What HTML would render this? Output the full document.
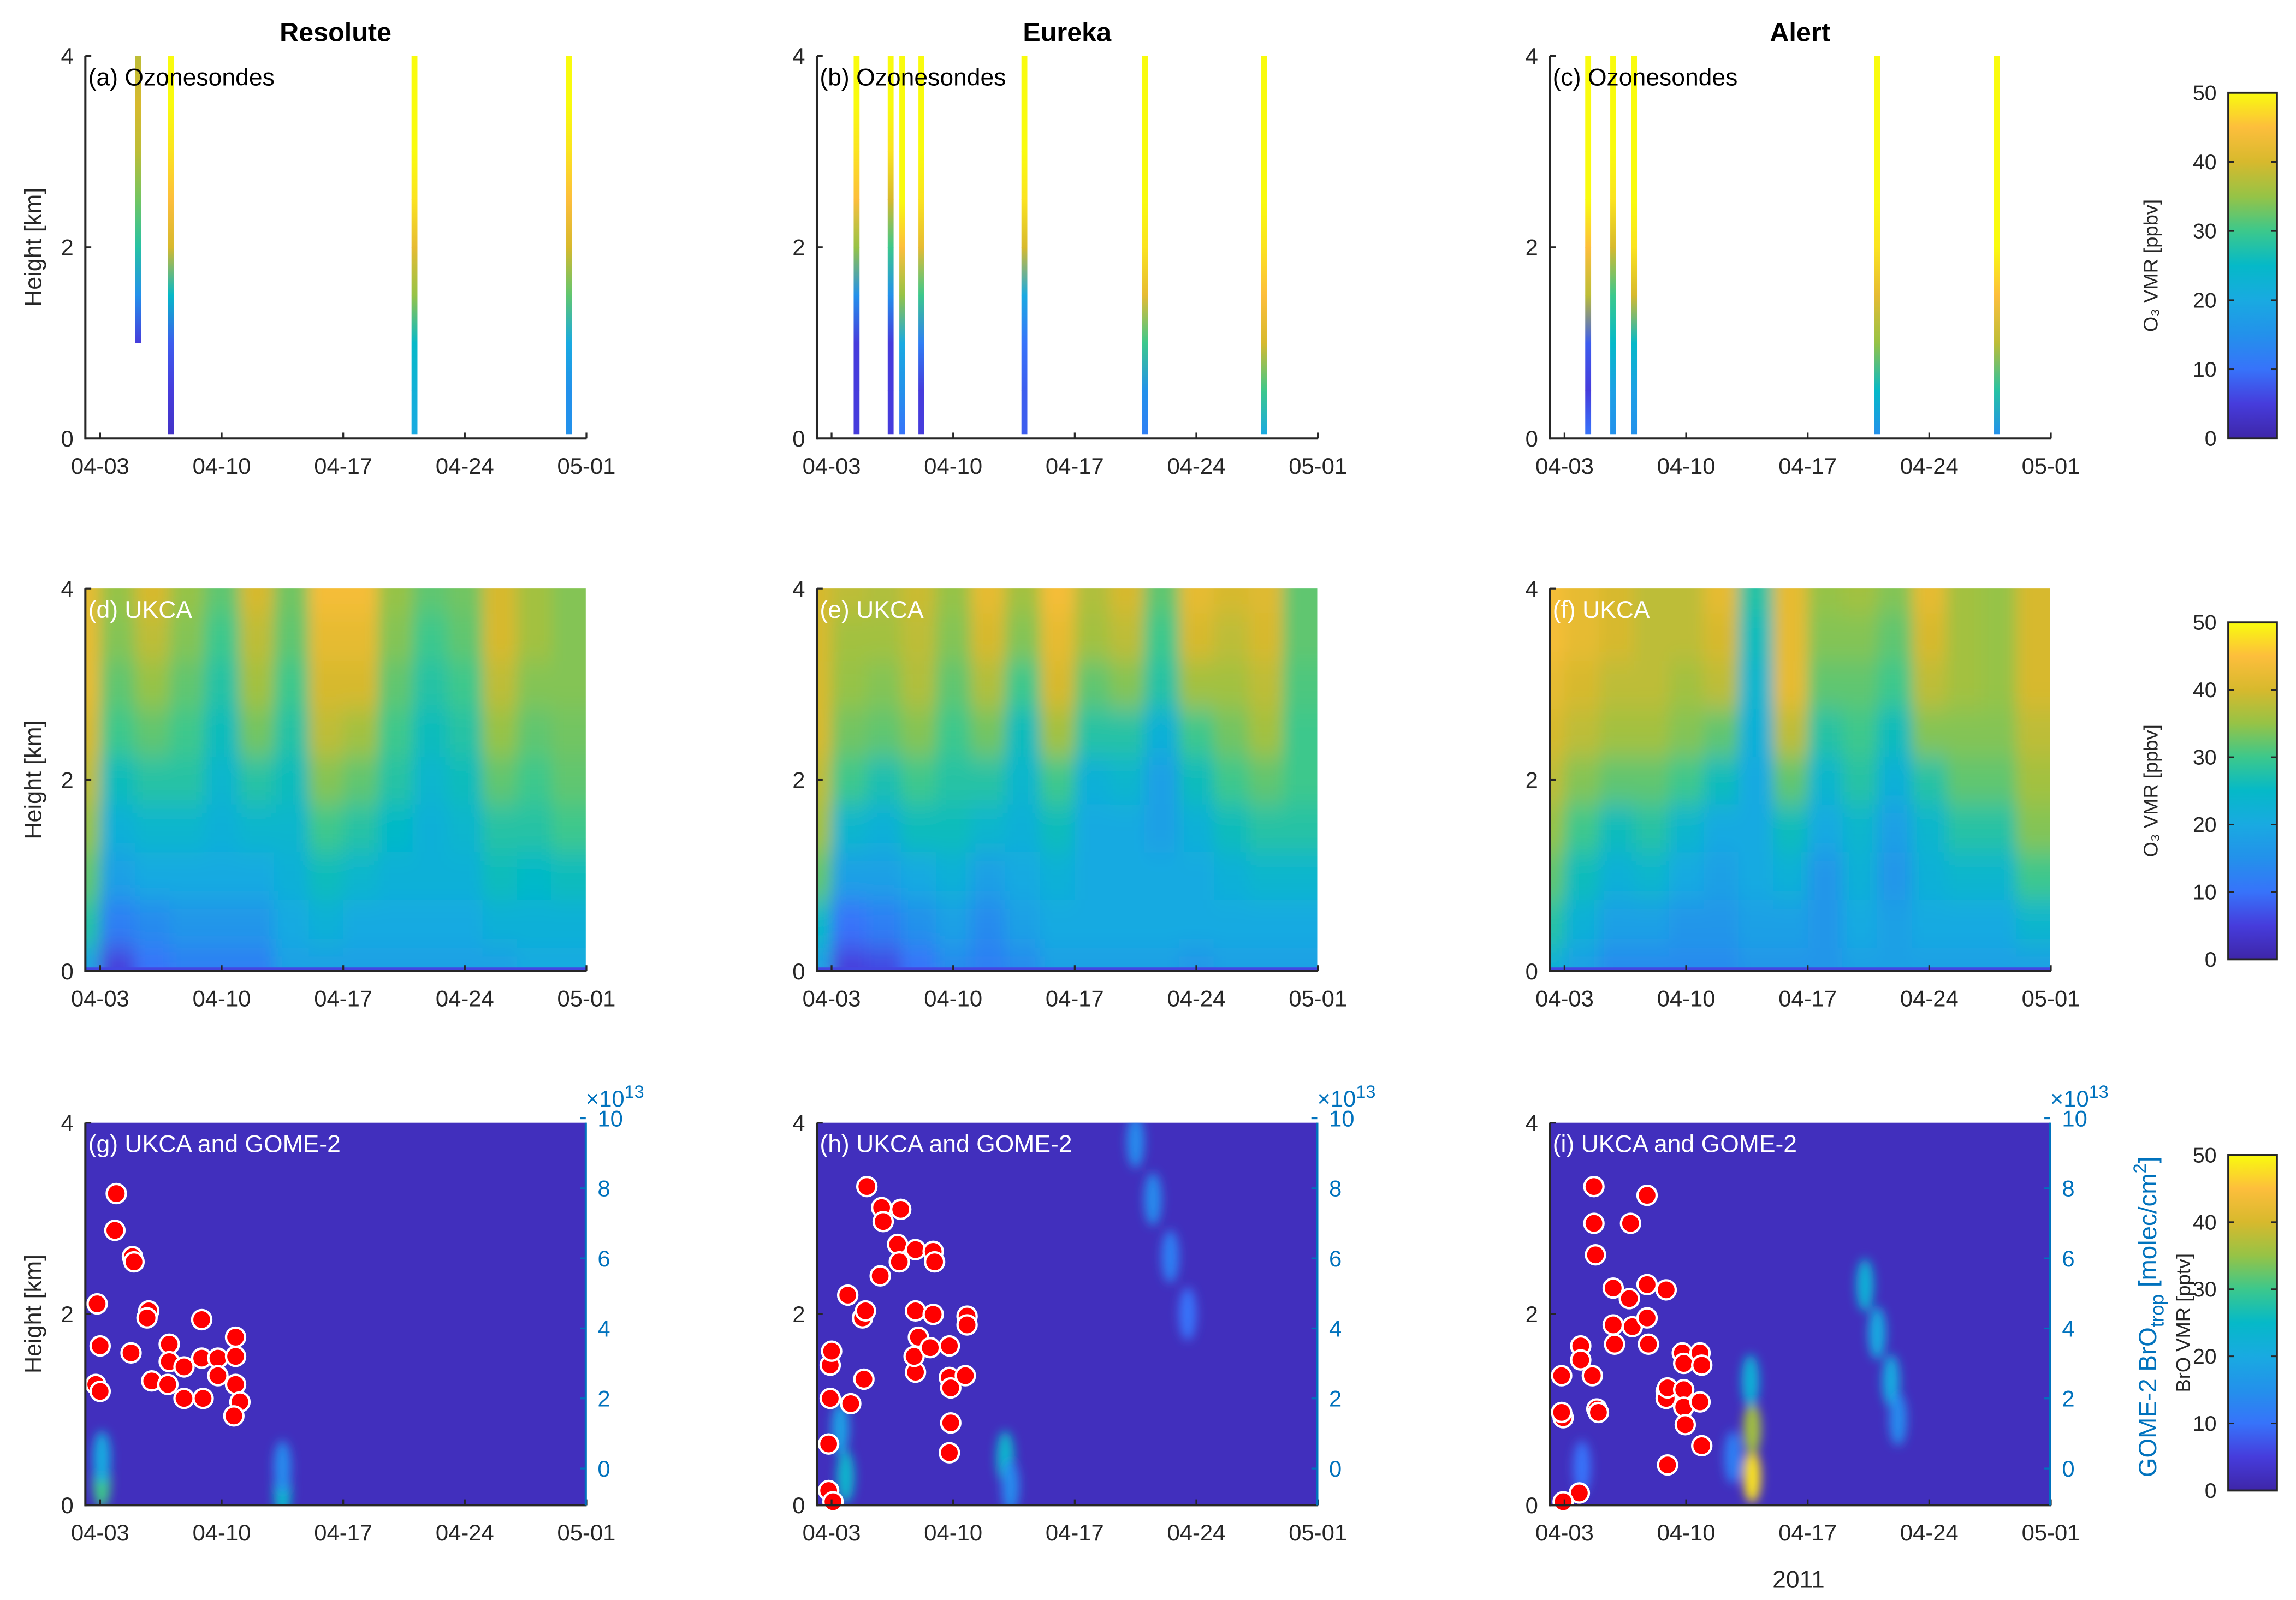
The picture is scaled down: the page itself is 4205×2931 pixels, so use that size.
<!DOCTYPE html>
<html><head><meta charset="utf-8"><style>
html,body{margin:0;padding:0;background:#fff;}
svg{display:block;font-family:"Liberation Sans",Arial,sans-serif;}
</style></head><body>
<svg id="fig" xmlns="http://www.w3.org/2000/svg" width="4205" height="2931" viewBox="0 0 1560 1087.4" preserveAspectRatio="none">
<defs>
<filter id="blurH" filterUnits="userSpaceOnUse" x="0" y="0" width="1560" height="1088"><feGaussianBlur stdDeviation="5 9"/></filter>
<filter id="blurB" filterUnits="userSpaceOnUse" x="0" y="0" width="1560" height="1088"><feGaussianBlur stdDeviation="3.5"/></filter>
</defs>
</svg>
<script>
// ---------------- data ----------------
const stationNames=["Resolute","Eureka","Alert"];
const dateTickDays=[3,10,17,24,31];
const dateTickLabels=["04-03","04-10","04-17","04-24","05-01"];
const heightTicks=[0,2,4];
const rightTicks=[0,2,4,6,8,10];
const cbTicks=[0,10,20,30,40,50];
const profileHeights=[0,0.5,1,1.5,2,2.5,3,3.5,4];
// ozonesondes
const sondeDaysResolute=[5.2,7.07,21.1,30.0];
const sondeValsResolute=[[8,null,5,15,28,33,38,40,38],[3,5,8,25,40,45,48,50,50],[20,22,25,35,42,48,50,50,50],[15,15,20,32,40,45,48,50,50]];
const sondeDaysEureka=[4.44,6.4,7.07,8.17,14.1,21.05,27.9];
const sondeValsEureka=[[5,5,5,15,35,45,48,50,50],[5,5,5,15,30,40,48,50,50],[10,15,20,35,45,50,50,50,50],[5,5,12,30,42,48,50,50,50],[8,8,10,20,40,48,50,50,50],[12,15,30,42,48,50,50,50,50],[20,30,40,45,48,50,50,50,50]];
const sondeDaysAlert=[4.36,5.8,7.0,21.0,27.9];
const sondeValsAlert=[[10,5,8,38,45,50,50,50,50],[15,18,25,30,40,48,50,50,50],[15,18,25,40,48,50,50,50,50],[15,25,35,42,48,50,50,50,50],[15,28,38,45,50,50,50,50,50]];
// UKCA ozone
const ukcaDays=[2,4,6,8,10,12,14,16,18,20,22,24,26,28,30];
const ukcaResolute=[[18,28,32,35,38,40,42,42,42],[5,12,18,22,26,30,32,34,35],[10,14,20,24,28,32,35,38,40],[12,16,20,24,28,30,32,34,35],[12,16,20,22,24,26,28,30,32],[12,16,20,24,28,33,36,38,40],[18,20,22,24,26,28,30,32,33],[18,22,26,30,34,38,40,42,44],[18,20,24,28,32,36,40,42,44],[18,20,22,25,28,30,32,34,35],[18,20,22,22,24,26,28,30,32],[18,20,22,24,26,28,30,32,33],[18,22,26,28,32,35,38,40,40],[20,22,25,28,30,32,34,36,36],[20,22,26,30,32,33,34,34,34]];
const ukcaEureka=[[18,25,32,36,38,40,40,40,40],[5,10,18,24,30,33,35,36,38],[6,12,18,22,27,32,34,36,37],[10,15,20,26,30,34,37,38,39],[14,18,22,26,28,30,32,34,35],[12,14,18,24,28,33,37,40,42],[14,18,20,22,24,26,30,34,36],[18,20,22,26,30,36,40,42,44],[18,20,20,20,22,28,32,36,37],[18,20,20,20,24,28,34,38,40],[18,20,20,18,18,22,28,30,32],[16,20,20,22,26,30,36,40,42],[18,20,22,26,30,33,36,38,40],[18,20,24,28,32,36,38,40,41],[18,20,24,28,30,30,31,32,32]];
const ukcaAlert=[[22,28,32,35,38,40,42,44,44],[18,22,26,30,34,38,40,42,42],[14,18,22,26,32,36,38,40,40],[14,18,24,28,32,36,38,38,38],[14,16,20,24,30,34,36,38,38],[14,16,18,20,26,32,38,40,42],[16,18,20,20,20,22,24,26,28],[16,18,22,26,32,38,42,42,42],[16,16,16,20,24,28,32,34,35],[18,20,22,24,28,30,32,34,36],[18,18,16,18,22,26,30,32,34],[18,20,22,24,28,34,38,40,42],[18,20,24,28,32,34,36,36,36],[18,20,24,28,32,34,35,35,35],[18,24,30,34,36,38,40,40,40]];
const ukcaSurfaceStrip=6;
// UKCA BrO
const broBackground=2;
const broDaysResolute=[3.1,3.1,13.5,13.5];
const broHResolute=[0.25,0.5,0.15,0.4];
const broValResolute=[30,20,24,14];
const broDaysEureka=[3.8,3.5,13,13.3,20.5,21.5,22.5,23.5];
const broHEureka=[0.3,0.8,0.5,0.2,3.8,3.2,2.6,2.0];
const broValEureka=[24,18,24,14,14,14,12,10];
const broDaysAlert=[13.8,13.8,13.7,12.7,20.3,21.0,21.8,22.2,4.0];
const broHAlert=[0.3,0.8,1.3,0.5,2.3,1.8,1.3,0.9,0.4];
const broValAlert=[48,36,22,12,22,20,20,14,10];
// GOME-2 BrO (x1e13 molec/cm2)
const gomeDaysResolute=[2.83,3.0,2.75,3.0,3.93,3.85,4.86,4.95,4.78,5.8,5.7,5.97,6.98,6.98,6.9,7.83,7.83,8.85,8.85,8.93,9.78,9.78,10.8,10.8,10.8,11.05,10.7];
const gomeValsResolute=[4.7,3.5,2.4,2.2,7.85,6.8,6.05,5.9,3.3,4.5,4.3,2.5,3.55,3.05,2.4,2.9,2.0,4.25,3.15,2.0,3.15,2.65,3.75,3.2,2.4,1.9,1.5];
const gomeDaysEureka=[2.83,3.08,2.83,2.92,3.0,2.92,3.93,4.1,4.78,4.95,4.86,5.03,5.88,5.97,5.8,6.8,6.9,6.98,7.83,7.83,8.0,7.83,7.75,8.85,8.93,8.85,8.68,9.78,9.78,9.86,9.86,9.78,10.8,10.8,10.7];
const gomeValsEureka=[-0.63,-0.95,0.7,2.95,3.35,2.0,4.95,1.85,4.3,4.5,2.55,8.05,7.45,7.05,5.5,6.4,5.9,7.4,6.25,4.5,3.75,2.75,3.2,6.2,5.9,4.4,3.45,3.5,2.6,2.3,1.3,0.45,4.35,4.1,2.65];
const gomeDaysAlert=[2.83,2.92,2.83,3.93,3.93,3.85,2.92,4.6,4.69,4.69,4.78,4.86,4.95,5.8,5.8,5.88,6.73,6.8,6.9,7.75,7.75,7.75,7.83,8.85,8.85,8.85,8.93,8.93,9.78,9.86,9.86,9.86,9.95,10.8,10.9,10.8,10.9];
const gomeValsAlert=[2.65,1.45,1.6,3.5,3.1,-0.7,-0.95,2.65,8.05,7.0,6.1,1.7,1.6,5.15,4.1,3.55,4.85,7.0,4.05,7.8,5.25,4.3,3.55,5.1,2.2,2.0,2.3,0.1,3.3,3.0,2.25,1.75,1.25,3.3,2.95,1.9,0.65];

// ---------------- layout ----------------
const NS="http://www.w3.org/2000/svg";
const svg=document.getElementById("fig");
const colX0=[58,555,1053], W=340;
const rowY0=[38,400,763], H=260;
function xS(c,d){return colX0[c]+(d-2.15)*11.8;}
function yS(r,h){return rowY0[r]+(4-h)*(H/4);}
function yR(r,v){return rowY0[r]+H-(v+1.05)*23.8;}
const stops=[[62,38,168],[70,60,220],[55,115,250],[35,145,235],[25,170,225],[5,185,200],[60,200,140],[150,195,70],[215,185,45],[253,190,60],[249,251,14]];
function cmap(v){let t=Math.max(0,Math.min(1,v/50))*10;let i=Math.min(9,Math.floor(t));let f=t-i;const a=stops[i],b=stops[i+1];
 return "rgb("+Math.round(a[0]+(b[0]-a[0])*f)+","+Math.round(a[1]+(b[1]-a[1])*f)+","+Math.round(a[2]+(b[2]-a[2])*f)+")";}
function el(tag,attrs,parent){const e=document.createElementNS(NS,tag);for(const k in attrs)e.setAttribute(k,attrs[k]);(parent||svg).appendChild(e);return e;}
function txt(s,attrs,parent){const e=el("text",attrs,parent);e.textContent=s;return e;}

const sondeDays=[sondeDaysResolute,sondeDaysEureka,sondeDaysAlert];
const sondeVals=[sondeValsResolute,sondeValsEureka,sondeValsAlert];
const ukca=[ukcaResolute,ukcaEureka,ukcaAlert];
const broD=[broDaysResolute,broDaysEureka,broDaysAlert],broH=[broHResolute,broHEureka,broHAlert],broV=[broValResolute,broValEureka,broValAlert];
const gD=[gomeDaysResolute,gomeDaysEureka,gomeDaysAlert],gV=[gomeValsResolute,gomeValsEureka,gomeValsAlert];
const letters=[["a","b","c"],["d","e","f"],["g","h","i"]];

for(let c=0;c<3;c++){
 for(let r=0;r<3;r++){
  const cp=el("clipPath",{id:"clip"+r+c});
  el("rect",{x:colX0[c],y:rowY0[r],width:W,height:H},cp);
 }
 const t=txt(stationNames[c],{x:colX0[c]+170,y:28,"font-size":18,"font-weight":"bold","text-anchor":"middle"});
 
 

 const gs=el("g",{"clip-path":"url(#clip0"+c+")"});
 
 
 sondeDays[c].forEach((d,i)=>{
  const vals=sondeVals[c][i];
  for(let k=0;k<profileHeights.length-1;k++){
   const v0=vals[k],v1=vals[k+1];
   if(v0==null||v1==null)continue;
   const gid="sg"+c+"_"+i+"_"+k;
   const lg=el("linearGradient",{id:gid,x1:0,y1:1,x2:0,y2:0},svg.querySelector("defs"));
   el("stop",{offset:0,"stop-color":cmap(v0)},lg);el("stop",{offset:1,"stop-color":cmap(v1)},lg);
   const yb=yS(0,Math.max(profileHeights[k],0.05)),yt=yS(0,profileHeights[k+1]);
   const rr=el("rect",{x:xS(c,d)-2,y:yt,width:4,height:yb-yt+0.3,fill:"url(#"+gid+")"},gs);
   
   
  }
 });

 const gc=el("g",{"clip-path":"url(#clip1"+c+")"});
 const gh=el("g",{filter:"url(#blurH)"},gc);
 
 
 const data=ukca[c];
 for(let i=0;i<ukcaDays.length;i++){
  let xl=i==0?xS(c,ukcaDays[0])-40:(xS(c,ukcaDays[i-1])+xS(c,ukcaDays[i]))/2;
  let xr=i==ukcaDays.length-1?xS(c,ukcaDays[i])+40:(xS(c,ukcaDays[i])+xS(c,ukcaDays[i+1]))/2;
  for(let k=0;k<profileHeights.length;k++){
   let yt=k==profileHeights.length-1?yS(1,4)-40:yS(1,profileHeights[k]+0.25);
   let yb=k==0?yS(1,0)+40:yS(1,profileHeights[k]-0.25);
   const cell=el("rect",{x:xl,y:yt,width:xr-xl+0.5,height:yb-yt+0.5,fill:cmap(data[i][k])},gh);
   
   
  }
 }
 const strip=el("rect",{x:colX0[c],y:rowY0[1]+H-2.5,width:W,height:2.5,fill:cmap(ukcaSurfaceStrip)},gc);
 
 

 const gb=el("g",{"clip-path":"url(#clip2"+c+")"});
 
 
 el("rect",{x:colX0[c],y:rowY0[2],width:W,height:H,fill:cmap(broBackground)},gb);
 const gbb=el("g",{filter:"url(#blurB)"},gb);
 broD[c].forEach((d,i)=>{
  const e=el("ellipse",{cx:xS(c,d),cy:yS(2,broH[c][i]),rx:6,ry:18,fill:cmap(broV[c][i])},gbb);
  
  
 });
 gD[c].forEach((d,i)=>{
  const p=el("circle",{cx:xS(c,d),cy:yR(2,gV[c][i]),r:6.5,fill:"#ff0000",stroke:"#ffffff","stroke-width":1.6});
  
  
 });

 for(let r=0;r<3;r++){
  const ax=el("g",{});
  
  
  const y0=rowY0[r],yb=y0+H,x0=colX0[c];
  el("line",{x1:x0,y1:y0,x2:x0,y2:yb+0.75,stroke:"#262626","stroke-width":1.5},ax);
  el("line",{x1:x0,y1:yb,x2:x0+W+0.6,y2:yb,stroke:"#262626","stroke-width":1.5},ax);
  dateTickDays.forEach((d,i)=>{
   const x=xS(c,d);
   el("line",{x1:x,y1:yb,x2:x,y2:yb-4,stroke:"#262626","stroke-width":1.2},ax);
   txt(dateTickLabels[i],{x:x,y:yb+24,"font-size":15.5,"text-anchor":"middle",fill:"#262626"},ax);
  });
  heightTicks.forEach(h=>{
   const y=yS(r,h);
   el("line",{x1:x0,y1:y,x2:x0+4,y2:y,stroke:"#262626","stroke-width":1.2},ax);
   txt(String(h),{x:x0-8,y:y+5.5,"font-size":15.5,"text-anchor":"end",fill:"#262626"},ax);
  });
  if(c==0){
   txt("Height [km]",{x:0,y:0,transform:"translate(28,"+(y0+H/2)+") rotate(-90)","font-size":16,"text-anchor":"middle",fill:"#262626"},ax);
  }
  const lab=["Ozonesondes","UKCA","UKCA and GOME-2"][r];
  txt("("+letters[r][c]+") "+lab,{x:x0+2,y:y0+20,"font-size":16.5,fill:r==0?"#000":"#fff"},ax);
  if(r==2){
   const xr=x0+W;
   el("line",{x1:xr,y1:y0,x2:xr,y2:yb,stroke:"#0072bd","stroke-width":1.5},ax);
   rightTicks.forEach(v=>{
    const y=yR(2,v);
    el("line",{x1:xr,y1:y,x2:xr-4,y2:y,stroke:"#0072bd","stroke-width":1.2},ax);
    txt(String(v),{x:xr+8,y:y+5.5,"font-size":15.5,fill:"#0072bd"},ax);
   });
   const m=txt("×10",{x:xr,y:y0-11,"font-size":15.5,fill:"#0072bd"},ax);
   const ts=el("tspan",{dy:-6,"font-size":12},m);ts.textContent="13";
  }
 }
}
const cbY=[[63,298],[423,652],[785,1013]];
const cbLabels=["O₃ VMR [ppbv]","O₃ VMR [ppbv]","BrO VMR [pptv]"];
const lgc=el("linearGradient",{id:"parula",x1:0,y1:1,x2:0,y2:0},svg.querySelector("defs"));
for(let i=0;i<=10;i++)el("stop",{offset:i/10,"stop-color":cmap(i*5)},lgc);
const cbX=1514,cbW=33;
cbY.forEach((yy,r)=>{
 const g=el("g",{});
 
 
 el("rect",{x:cbX,y:yy[0],width:cbW,height:yy[1]-yy[0],fill:"url(#parula)",stroke:"#262626","stroke-width":1.4},g);
 cbTicks.forEach(v=>{
  const y=yy[1]-(yy[1]-yy[0])*v/50;
  el("line",{x1:cbX,y1:y,x2:cbX+4,y2:y,stroke:"#262626","stroke-width":1.1},g);
  el("line",{x1:cbX+cbW,y1:y,x2:cbX+cbW-4,y2:y,stroke:"#262626","stroke-width":1.1},g);
  txt(String(v),{x:cbX-8,y:y+5,"font-size":14.5,"text-anchor":"end",fill:"#262626"},g);
 });
 txt(cbLabels[r],{x:0,y:0,transform:"translate("+(r==2?1488:1466)+","+((yy[0]+yy[1])/2)+") rotate(-90)","font-size":13.5,"text-anchor":"middle",fill:"#262626"},g);
});
const gl=txt("GOME-2 BrO",{x:0,y:0,transform:"translate(1465,895) rotate(-90)","font-size":17,"text-anchor":"middle",fill:"#0072bd"});


const t1=el("tspan",{dy:5,"font-size":13},gl);t1.textContent="trop";
const t2=el("tspan",{dy:-5},gl);t2.textContent=" [molec/cm";
const t3=el("tspan",{dy:-7,"font-size":12},gl);t3.textContent="2";
const t4=el("tspan",{dy:7},gl);t4.textContent="]";
const yr=txt("2011",{x:1222,y:1079,"font-size":16.5,"text-anchor":"middle",fill:"#262626"});


</script>
</body></html>
